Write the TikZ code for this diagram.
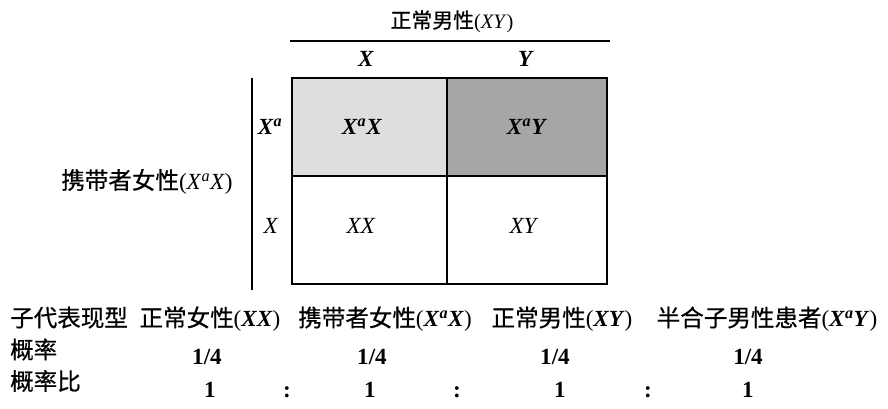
\documentclass[tikz,border=0pt]{standalone}
\usepackage{fontspec}
\setmainfont[Scale=1.05]{Liberation Serif}
\newfontfamily\cjk[Scale=1.07,FakeBold=0.6]{Noto Sans CJK SC}
\newcommand\myXa{\textit{X}\textsuperscript{\textit{a}}}
\newcommand\myBXa{\textbf{\textit{X}\textsuperscript{\textit{a}}}}
\newcommand\bi[1]{\textbf{\textit{#1}}}
\begin{document}
\begin{tikzpicture}[x=1pt,y=-1pt,
  lab/.style={inner sep=0pt, anchor=base, font=\fontsize{22}{26}\selectfont},
  labw/.style={lab, anchor=base west},
  toplab/.style={inner sep=0pt, anchor=base, font=\fontsize{19.5}{23}\selectfont},
  rule/.style={line width=1.6pt},
  gridline/.style={line width=1.5pt},
  lightcell/.style={fill=black!13},
  darkcell/.style={fill=black!35}]
\useasboundingbox (0,0) rectangle (888,408);
% top header
\node[toplab] (male) at (452,28) {{\cjk 正常男性}(\textit{XY})};
\coordinate (rl) at (290,41);
\coordinate (rr) at (610,41);
\draw[rule] (rl) -- (rr);
\node[lab] (hx) at (366,66) {\bi{X}};
\node[lab] (hy) at (526,66) {\bi{Y}};
% grid
\coordinate (g1) at (292,78);
\coordinate (g2) at (447,176);
\coordinate (g3) at (607,284);
\fill[lightcell] (g1) rectangle (g2);
\fill[darkcell] (447,78) rectangle (607,176);
\draw[gridline] (g1) rectangle (g3);
\draw[gridline] (447,78) -- (447,284);
\draw[gridline] (292,176) -- (607,176);
% vertical rule
\coordinate (vt) at (252,78);
\coordinate (vb) at (252,290);
\draw[rule] (vt) -- (vb);
\node[lab] (rxa) at (270,134) {\myBXa};
\node[lab] (rx) at (271,233) {\textit{X}};
% cell labels
\node[lab] (c11) at (362,134) {\myBXa\bi{X}};
\node[lab] (c12) at (527,134) {\myBXa\bi{Y}};
\node[lab] (c21) at (361,233) {\textit{XX}};
\node[lab] (c22) at (524,233) {\textit{XY}};
% left label
\node[lab] (fem) at (147,189) {{\cjk 携带者女性}(\myXa\textit{X})};
% bottom rows
\node[labw] (t1) at (10,326.5) {\cjk 子代表现型};
\node[lab] (p1) at (210,326.5) {{\cjk 正常女性}(\bi{XX})};
\node[lab] (p2) at (385,326.5) {{\cjk 携带者女性}(\myBXa\bi{X})};
\node[lab] (p3) at (562,326.5) {{\cjk 正常男性}(\bi{XY})};
\node[lab] (p4) at (767,326.5) {{\cjk 半合子男性患者}(\myBXa\bi{Y})};
\node[labw] (t2) at (10,358.5) {\cjk 概率};
\node[lab] (q1) at (207,364) {\textbf{1/4}};
\node[lab] (q2) at (372,364) {\textbf{1/4}};
\node[lab] (q3) at (555,364) {\textbf{1/4}};
\node[lab] (q4) at (748,364) {\textbf{1/4}};
\node[labw] (t3) at (10,390) {\cjk 概率比};
\node[lab] (r1) at (210,397) {\textbf{1}};
\node[lab] (k1) at (287,397) {\textbf{:}};
\node[lab] (r2) at (370,397) {\textbf{1}};
\node[lab] (k2) at (457,397) {\textbf{:}};
\node[lab] (r3) at (560,397) {\textbf{1}};
\node[lab] (k3) at (648,397) {\textbf{:}};
\node[lab] (r4) at (748,397) {\textbf{1}};
\end{tikzpicture}
\end{document}
